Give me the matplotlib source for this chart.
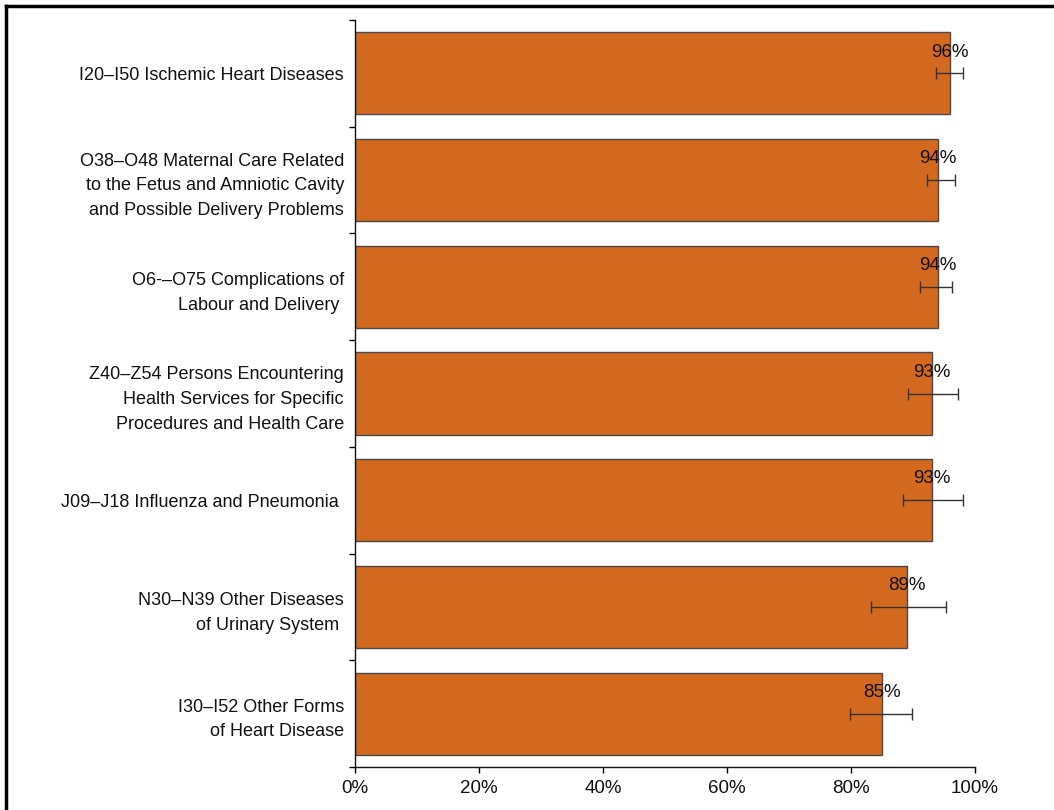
import numpy as np
import matplotlib
matplotlib.use("Agg")
import matplotlib.pyplot as plt
from matplotlib.lines import Line2D

plt.rcParams['font.family'] = ['Liberation Sans', 'DejaVu Sans']

# 诊断类别（自上而下）
categories = [
    "I20\u2013I50 Ischemic Heart Diseases",
    "O38\u2013O48 Maternal Care Related\nto the Fetus and Amniotic Cavity\nand Possible Delivery Problems",
    "O6-\u2013O75 Complications of\nLabour and Delivery ",
    "Z40\u2013Z54 Persons Encountering\nHealth Services for Specific\nProcedures and Health Care",
    "J09\u2013J18 Influenza and Pneumonia ",
    "N30\u2013N39 Other Diseases\nof Urinary System ",
    "I30\u2013I52 Other Forms\nof Heart Disease",
]
values = [96, 94, 94, 93, 93, 89, 85]
err_center = [95.9, 94.5, 93.7, 93.2, 93.2, 89.3, 84.8]
err_half = [2.2, 2.2, 2.6, 4.0, 4.8, 6.0, 5.0]
xticks = [0, 20, 40, 60, 80, 100]

bar_color = '#D2691E'

fig = plt.figure(figsize=(10.54, 8.10), dpi=100)
ax = fig.add_axes([355 / 1054, 1 - 767 / 810, (975 - 355) / 1054, (767 - 20) / 810])

n = len(categories)
y = np.arange(n)
ax.barh(y, values, height=0.77, color=bar_color, edgecolor='#4a4a4a', linewidth=1.0, zorder=2)
ax.errorbar(err_center, y, xerr=err_half, fmt='none', ecolor='#333333',
            elinewidth=1.0, capsize=4, capthick=1.0, zorder=3)
for yi, v in zip(y, values):
    ax.text(v, yi - 0.2, f"{v}%", ha='center', va='center', fontsize=13.5,
            color='#111111', zorder=4)

ax.set_ylim(n - 0.5, -0.5)
ax.set_xlim(0, 100)
ax.set_yticks(y)
ax.set_yticklabels(categories, fontsize=13, color='#111111', linespacing=1.6)
ax.set_yticks(np.arange(-0.5, n, 1.0), minor=True)
ax.tick_params(axis='y', which='major', length=0, pad=8)
ax.tick_params(axis='y', which='minor', length=4.5, width=1.0, direction='out')
ax.set_xticks(xticks)
ax.set_xticklabels([f"{t}%" for t in xticks], fontsize=13.5, color='#111111')
ax.tick_params(axis='x', length=4.5, width=1.0, pad=5)
for s in ['top', 'right']:
    ax.spines[s].set_visible(False)
for s in ['left', 'bottom']:
    ax.spines[s].set_linewidth(1.0)
    ax.spines[s].set_color('#111111')

# 外框（上、左）
fig.add_artist(Line2D([6 / 1054, 1], [1 - 6 / 810, 1 - 6 / 810], color='black', lw=2.5,
                      transform=fig.transFigure))
fig.add_artist(Line2D([6 / 1054, 6 / 1054], [0, 1 - 6 / 810], color='black', lw=2.5,
                      transform=fig.transFigure))

fig.savefig('out.png', dpi=100)
